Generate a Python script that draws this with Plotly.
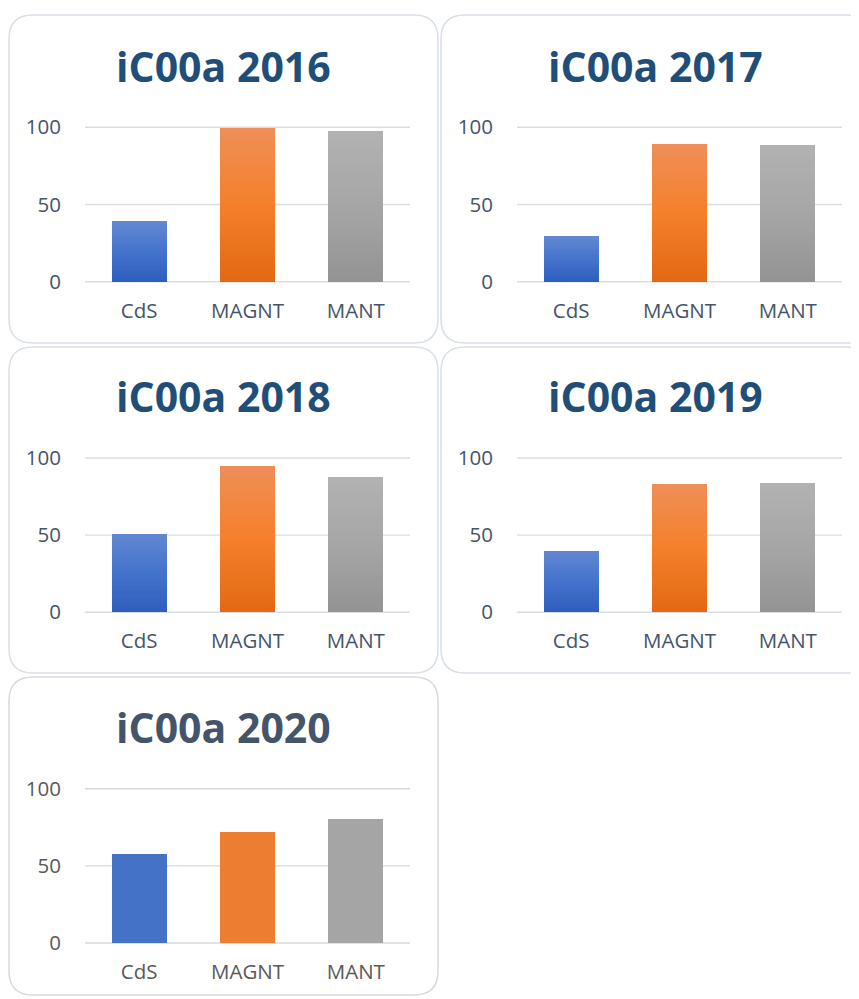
import plotly.graph_objects as go

# ---------------- data ----------------
categories = ["CdS", "MAGNT", "MANT"]
titles = ["iC00a 2016", "iC00a 2017", "iC00a 2018", "iC00a 2019", "iC00a 2020"]
values_2016 = [39, 99.5, 97.5]
values_2017 = [29.5, 89, 88.5]
values_2018 = [51, 95, 88]
values_2019 = [40, 83, 84]
values_2020 = [58, 72, 80.5]
y_ticks = [0, 50, 100]
all_values = [values_2016, values_2017, values_2018, values_2019, values_2020]

W, H = 859, 999
OFF = 8  # page body margin offset

# gradient stops (bottom, middle, top) per category
grad = {
    "CdS": ["#2E5EBD", "#4473CC", "#6288D1"],
    "MAGNT": ["#E26914", "#F57F2B", "#EF8F58"],
    "MANT": ["#939393", "#A6A6A6", "#B2B2B2"],
}
solid = ["#4472C4", "#ED7D31", "#A5A5A5"]


def hex2rgb(h):
    h = h.lstrip("#")
    return tuple(int(h[i:i + 2], 16) for i in (0, 2, 4))


def interp(stops, f):
    if f <= 0.5:
        a, b, t = stops[0], stops[1], f / 0.5
    else:
        a, b, t = stops[1], stops[2], (f - 0.5) / 0.5
    ra, rb = hex2rgb(a), hex2rgb(b)
    c = [round(ra[i] + (rb[i] - ra[i]) * t) for i in range(3)]
    return "rgb(%d,%d,%d)" % tuple(c)


# panel layout (pixels, in screenshot coordinates)
col_plot_x = [(85, 410), (517, 842)]
row_plot_y = [(127.3, 281.7), (458, 612.3), (788.7, 943)]  # (value 100, value 0)
col_box_x = [(9, 438), (441, 870)]
row_box_y = [(15, 343), (347, 673), (677, 995)]
title_y = [67, 397, 728]
Y_LO, Y_HI = -1.0, 101.0

fig = go.Figure()
N = 30
shapes = []
annotations = []


def px_x(x):
    return (x - OFF) / W


def px_y(y):
    return 1 - (y - OFF) / H


def rounded(x0, y0, x1, y1, r):
    pts = [
        ("M", x0 + r, y0), ("L", x1 - r, y0), ("Q", x1, y0, x1, y0 + r),
        ("L", x1, y1 - r), ("Q", x1, y1, x1 - r, y1), ("L", x0 + r, y1),
        ("Q", x0, y1, x0, y1 - r), ("L", x0, y0 + r), ("Q", x0, y0, x0 + r, y0),
    ]
    s = ""
    for p in pts:
        cmd = p[0]
        coords = p[1:]
        parts = []
        for i in range(0, len(coords), 2):
            parts.append("%.5f,%.5f" % (px_x(coords[i]), px_y(coords[i + 1])))
        s += cmd + " " + " ".join(parts) + " "
    return s + "Z"


for idx, vals in enumerate(all_values):
    row, col = idx // 2, idx % 2
    n = idx + 1
    xa = "x" if n == 1 else "x%d" % n
    ya = "y" if n == 1 else "y%d" % n
    last = idx == 4
    tick_col = "#595959" if last else "#44546A"
    grid_col = "#D9D9D9" if last else "#D9DEE6"
    title_col = "#44546A" if last else "#1F4E79"
    box_col = "#D9D9D9" if last else "#DAE0E8"

    # gridlines (drawn below the bars, at the y tick values)
    for tv in y_ticks:
        shapes.append(dict(type="line", xref="%s domain" % xa, yref=ya,
                           x0=0, x1=1, y0=tv, y1=tv,
                           line=dict(color=grid_col, width=1.4), layer="below"))

    if last:
        fig.add_trace(go.Bar(x=categories, y=vals, marker=dict(color=solid, line=dict(width=0)),
                             xaxis=xa, yaxis=ya, showlegend=False, hoverinfo="skip"))
    else:
        for k in range(N):
            f = (k + 0.5) / N
            cols = [interp(grad[c], f) for c in categories]
            fig.add_trace(go.Bar(x=categories, y=[v / N for v in vals],
                                 marker=dict(color=cols, line=dict(width=0)),
                                 xaxis=xa, yaxis=ya, showlegend=False, hoverinfo="skip"))

    p100, p0 = row_plot_y[row]
    scale = (p0 - p100) / 100.0
    top_px = p100 - (Y_HI - 100) * scale
    bot_px = p0 + (0 - Y_LO) * scale
    xd = [px_x(col_plot_x[col][0]), px_x(col_plot_x[col][1])]
    yd = [px_y(bot_px), px_y(top_px)]
    fig.layout["xaxis" if n == 1 else "xaxis%d" % n] = dict(
        domain=xd, anchor=ya, showgrid=False, zeroline=False, showline=False,
        ticks="", ticklabelstandoff=13, automargin=False,
        tickfont=dict(family="Open Sans", size=20.5, color=tick_col), fixedrange=True)
    fig.layout["yaxis" if n == 1 else "yaxis%d" % n] = dict(
        domain=yd, anchor=xa, range=[Y_LO, Y_HI], tickvals=y_ticks, showgrid=False,
        zeroline=False, showline=False,
        ticks="", ticklabelstandoff=23, automargin=False,
        tickfont=dict(family="Open Sans", size=20.5, color=tick_col), fixedrange=True)

    bx, by = col_box_x[col], row_box_y[row]
    shapes.append(dict(type="path", xref="paper", yref="paper",
                       path=rounded(bx[0], by[0], bx[1], by[1], 24),
                       line=dict(color=box_col, width=1.5), layer="below"))
    annotations.append(dict(text="<b>%s</b>" % titles[idx], xref="paper", yref="paper",
                            x=px_x((bx[0] + bx[1]) / 2), y=px_y(title_y[row] - 1),
                            xanchor="center", yanchor="middle", showarrow=False,
                            font=dict(family="Open Sans", size=41, color=title_col)))

fig.update_layout(
    template="none",
    width=W, height=H, margin=dict(l=0, r=0, t=0, b=0, autoexpand=False),
    paper_bgcolor="white", plot_bgcolor="rgba(0,0,0,0)",
    barmode="stack", bargap=0.49,
    shapes=shapes, annotations=annotations,
)

fig.write_html("out.html")
